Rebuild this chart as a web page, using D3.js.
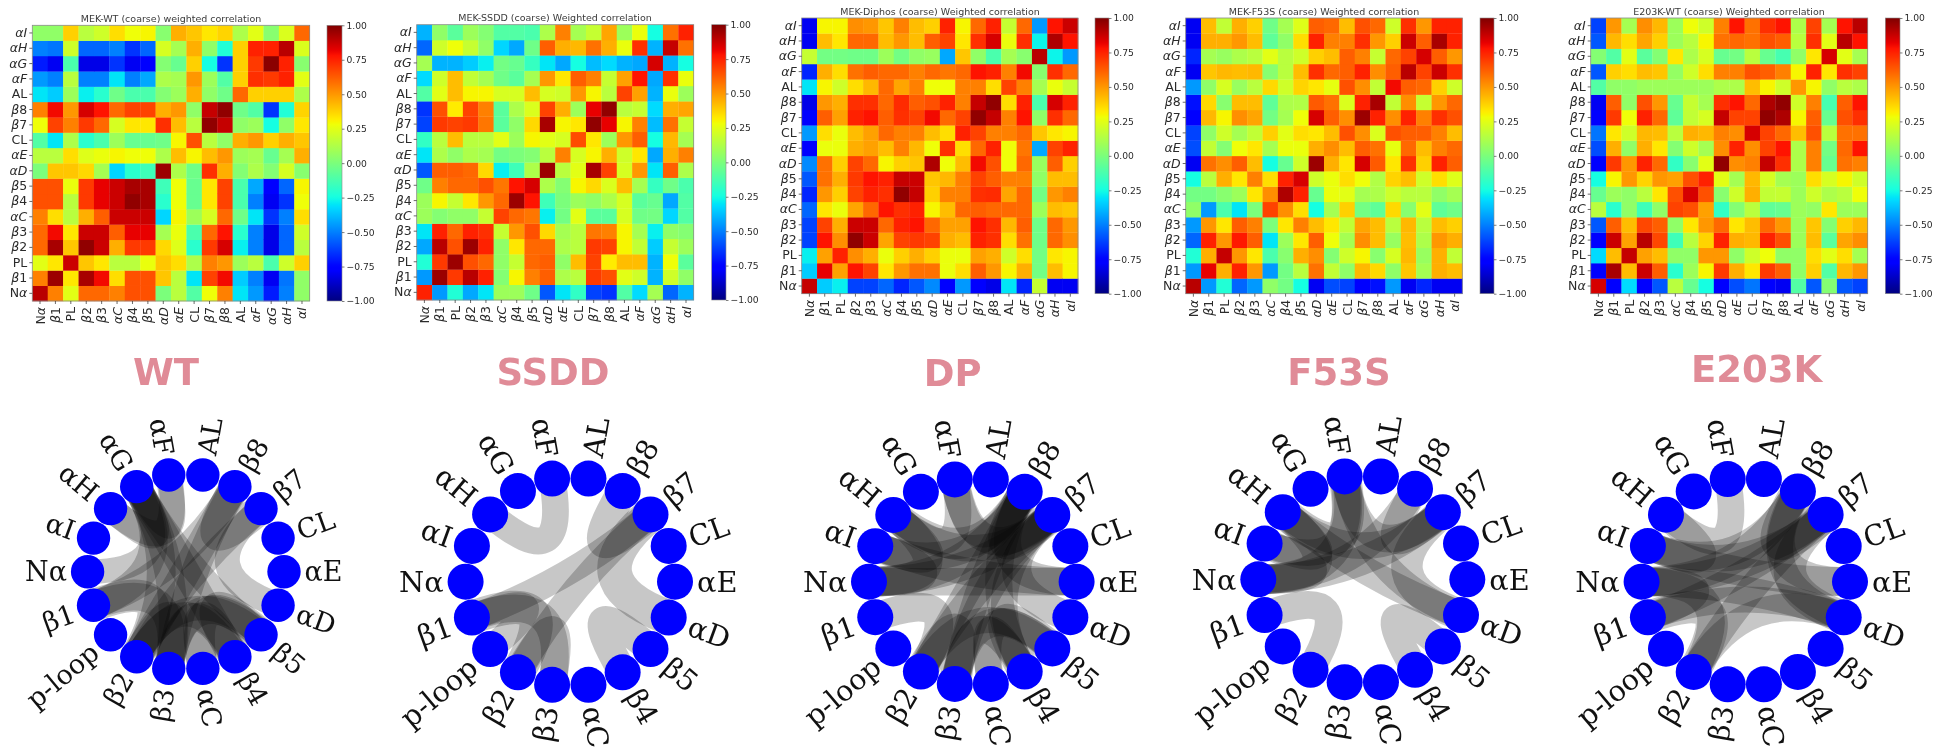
<!DOCTYPE html>
<html><head><meta charset="utf-8">
<script src="https://cdn.jsdelivr.net/npm/d3@7"></script>
<style>
html,body{margin:0;padding:0;background:#fff;overflow:hidden}
svg{display:block;filter:blur(0.45px)}
</style></head><body>
<svg id="chart" width="1950" height="750"></svg>
<script>
// ---------- categories ----------
const heatLabels = ["Nα","β1","PL","β2","β3","αC","β4","β5","αD","αE","CL","β7","β8","AL","αF","αG","αH","αI"];
const netLabels  = ["Nα","β1","p-loop","β2","β3","αC","β4","β5","αD","αE","CL","β7","β8","AL","αF","αG","αH","αI"];
const barTicks = [-1,-0.75,-0.5,-0.25,0,0.25,0.5,0.75,1];
const EDGE_CUTOFF = 0.7;

// ---------- correlation values: lower triangle, row i holds columns 0..i ----------
const corrWT = [
[.9],
[.55,.95],
[.25,.33,.87],
[.6,.93,.4,.97],
[.6,.8,.33,.87,.87],
[.55,.35,.15,.45,.62,.87],
[.65,.65,.15,.7,.82,.87,.97],
[.65,.65,.27,.7,.82,.87,.93,.93],
[0,.4,.4,.36,.1,-.33,-.2,-.15,.95],
[.15,.15,.35,.24,.27,.3,.28,.28,.12,.42],
[-.1,-.3,.12,-.2,-.12,.08,-.05,-.05,-.03,.3,.65],
[.28,.68,.55,.7,.6,.22,.33,.33,.72,.42,.15,.97],
[.55,.8,.5,.85,.78,.6,.68,.68,.45,.5,.05,.88,.97],
[-.3,-.35,.08,-.28,-.2,-.03,-.12,-.12,.02,.08,.45,.05,-.03,.6],
[-.45,-.5,.15,-.5,-.5,-.3,-.5,-.42,.12,.1,.5,.08,-.1,.38,.72],
[-.7,-.8,-.12,-.82,-.82,-.65,-.8,-.75,.02,-.05,.38,-.25,-.65,.38,.7,.98],
[-.5,-.52,.2,-.55,-.55,-.5,-.65,-.55,.22,.1,.45,.05,-.22,.38,.75,.75,.9],
[.05,.05,.38,.15,.2,.35,.28,.3,.03,.45,.4,.33,.37,.12,.25,.03,.23,.6]
];
const corrSSDD = [
[.75],
[-.45,.95],
[-.22,.7,.95],
[-.42,.9,.65,.95],
[-.3,.75,.6,.75,.72],
[.08,.02,.05,.05,.18,.68],
[.08,.3,.18,.33,.5,.6,.95],
[-.03,.55,.6,.6,.65,.57,.78,.85],
[-.58,.62,.62,.6,.36,-.28,-.15,.12,.95],
[-.3,.12,.05,.12,.1,-.02,0,.02,.15,.55],
[-.18,.15,.42,.15,.15,.25,.08,.3,.25,.22,.66],
[-.62,.7,.68,.7,.57,-.08,.05,.36,.93,.3,.33,.97],
[-.65,.65,.32,.68,.55,-.08,.12,.23,.68,.45,.08,.82,.97],
[-.1,.25,.42,.3,.3,.22,.22,.42,.22,.2,.5,.3,.15,.68],
[-.32,.2,.42,.17,.1,-.03,-.08,.1,.5,.33,.62,.55,.18,.48,.78],
[.1,-.4,-.4,-.35,-.28,-.02,-.05,-.17,-.3,-.42,-.25,-.38,-.32,-.4,-.42,.85],
[-.55,.2,.28,.18,.05,-.33,-.42,-.03,.62,.45,.43,.58,.45,.27,.72,-.4,.88],
[-.4,.05,-.08,.08,.02,-.1,-.1,-.12,.12,.55,.1,.18,.47,.08,.27,-.25,.58,.75]
];
const corrDP = [
[.88],
[-.35,.82],
[-.28,.48,.75],
[-.62,.78,.52,.97],
[-.62,.68,.45,.87,.87],
[-.55,.33,.27,.47,.6,.78],
[-.68,.5,.38,.68,.75,.72,.97],
[-.58,.58,.45,.7,.78,.75,.88,.87],
[-.48,.58,.38,.68,.6,.3,.38,.4,.92],
[-.75,.27,.27,.45,.48,.42,.55,.43,.28,.72],
[-.45,.35,.27,.42,.48,.6,.55,.55,.42,.35,.75],
[-.78,.62,.48,.75,.78,.62,.72,.68,.8,.6,.68,.97],
[-.82,.5,.45,.72,.72,.6,.73,.62,.65,.75,.55,.88,.97],
[-.3,.3,.2,.35,.43,.6,.47,.55,.28,.28,.55,.55,.35,.68],
[-.68,.45,.35,.58,.62,.6,.6,.55,.6,.57,.6,.78,.75,.55,.8],
[.18,-.02,-.02,-.03,-.03,.08,-.02,.05,.07,-.42,.4,.05,-.12,.1,.03,.9],
[-.8,.42,.33,.6,.6,.42,.5,.42,.62,.68,.33,.72,.85,.27,.72,-.27,.92],
[-.8,.3,.3,.52,.5,.4,.55,.42,.38,.75,.3,.6,.75,.18,.6,-.45,.78,.87]
];
const corrF53S = [
[.9],
[-.45,.82],
[-.22,.45,.88],
[-.55,.75,.5,.77],
[-.45,.5,.33,.62,.55],
[.05,-.45,-.12,-.3,0,.68],
[-.02,-.02,.03,.08,.33,.52,.92],
[-.25,.15,.45,.33,.55,.35,.75,.85],
[-.8,.58,.52,.62,.42,-.25,-.05,.2,.95],
[-.6,.17,.02,.28,.33,.1,.27,.27,.45,.52],
[-.62,.05,.2,.1,.17,.38,.25,.35,.33,.42,.65],
[-.78,.43,.3,.52,.47,-.02,.1,.28,.85,.62,.52,.95],
[-.72,.36,.03,.42,.42,-.07,.12,.13,.63,.58,.23,.75,.93],
[-.45,.05,.22,.07,.15,.36,.2,.37,.33,.26,.65,.52,.17,.8],
[-.8,.4,.43,.42,.43,.03,.15,.42,.72,.6,.62,.75,.52,.62,.9],
[-.68,.1,.07,.12,.15,.25,.15,.2,.38,.42,.62,.55,.18,.6,.68,.85],
[-.8,.45,.45,.5,.42,-.07,.05,.35,.75,.55,.55,.72,.5,.38,.87,.62,.93],
[-.8,.42,.17,.45,.38,-.03,.1,.24,.62,.6,.42,.65,.6,.2,.72,.5,.75,.75]
];
const corrE203K = [
[.85],
[-.75,.93],
[-.32,.42,.88],
[-.75,.87,.48,.9],
[-.58,.62,.42,.67,.62],
[.15,-.2,.05,-.15,.05,.68],
[-.05,.08,.05,.15,.33,.65,.85],
[-.25,.3,.5,.37,.5,.48,.65,.75],
[-.78,.7,.5,.75,.6,-.18,.03,.25,.97],
[-.6,.45,.05,.45,.33,.02,.2,.1,.52,.75],
[-.52,.33,.2,.43,.42,.15,.45,.43,.55,.52,.85],
[-.78,.7,.28,.75,.6,-.07,.17,.22,.88,.68,.68,.97],
[-.8,.62,.05,.65,.5,-.05,.18,.1,.72,.78,.6,.92,.97],
[-.1,.05,.05,.08,.08,.08,.08,.08,.12,.12,.42,.3,.2,.5],
[-.58,.38,.35,.42,.4,.06,.2,.35,.55,.55,.65,.62,.55,.3,.75],
[.02,-.1,.25,-.08,.02,.33,.12,.22,-.05,-.02,.15,-.05,-.13,.05,.33,.85],
[-.58,.43,.35,.47,.38,.08,.15,.3,.58,.6,.58,.65,.62,.15,.72,.25,.9],
[-.62,.5,.1,.52,.43,.08,.28,.2,.55,.78,.58,.72,.78,.12,.68,.1,.78,.9]
];
// pairs above the cut-off that the reference network does not draw
const absentF53S = [["Nα","αD"]];

// ---------- panel text and layout ----------
const panels = [
 {name:"WT",   title:"MEK-WT (coarse) weighted correlation",   corr:corrWT, absent:[],
  hm:[32.3,309.7,25.3,301], bar:[327,342],   tx:171,  net:[185.8,571.7,98.2,16.7], head:[166,385]},
 {name:"SSDD", title:"MEK-SSDD (coarse) Weighted correlation", corr:corrSSDD, absent:[],
  hm:[416.7,693.7,24.7,300], bar:[711.7,726], tx:555,  net:[570.3,581.7,104.7,18], head:[553,385]},
 {name:"DP",   title:"MEK-Diphos (coarse) Weighted correlation", corr:corrDP, absent:[],
  hm:[801.7,1078,18,293.7], bar:[1095,1109], tx:940,  net:[972.8,581.7,103.8,18], head:[952.7,385.5]},
 {name:"F53S", title:"MEK-F53S (coarse) Weighted correlation", corr:corrF53S, absent:absentF53S,
  hm:[1185.7,1462.3,18,293.7], bar:[1480,1494], tx:1324, net:[1362.8,579.3,104.5,18], head:[1339,385]},
 {name:"E203K",title:"E203K-WT (coarse) Weighted correlation", corr:corrE203K, absent:[],
  hm:[1590.7,1867.7,18,293.7], bar:[1885.3,1900], tx:1729, net:[1745.8,581.7,104.2,18], head:[1756.7,381.5]}
];

// ---------- jet colour map ----------
const chan = (d,r)=>d3.scaleLinear().domain(d).range(r).clamp(true);
const jr = chan([0,.35,.66,.89,1],[0,0,1,1,.5]);
const jg = chan([0,.125,.375,.64,.91,1],[0,0,1,1,0,0]);
const jb = chan([0,.11,.34,.65,1],[.5,1,1,0,0]);
const toUnit = d3.scaleLinear().domain([-1,1]).range([0,1]);
const jet = v=>{const t=toUnit(v);return d3.rgb(jr(t)*255,jg(t)*255,jb(t)*255).formatRgb();};

const svg = d3.select("#chart");
const defs = svg.append("defs");
const SANS = "'DejaVu Sans',sans-serif", SERIF = "'DejaVu Serif',serif";
const tickInk = "#2b2b2b";

defs.append("linearGradient").attr("id","jetbar").attr("x1",0).attr("x2",0).attr("y1",1).attr("y2",0)
  .selectAll("stop").data(d3.range(0,1.0001,0.01)).join("stop")
  .attr("offset",d=>d).attr("stop-color",d=>jet(d*2-1));

// mathtext style: Greek letters and the capital following alpha are italic
function styleMath(sel){
  sel.each(function(){
    const s=d3.select(this), t=s.text(); s.text(null);
    [...t].forEach((c,i)=>{
      const it = c==="α"||c==="β"||(i>0&&t[i-1]==="α");
      s.append("tspan").attr("font-style",it?"italic":"normal").text(c);
    });
  });
}

panels.forEach(p=>{
  const [x0,x1,y0,y1]=p.hm;
  const g=svg.append("g");
  const x=d3.scaleBand().domain(heatLabels).range([x0,x1]);
  const y=d3.scaleBand().domain(heatLabels).range([y1,y0]);
  const cells=[];
  p.corr.forEach((row,i)=>row.forEach((v,j)=>{
    cells.push({r:heatLabels[i],c:heatLabels[j],v});
    if(i!==j) cells.push({r:heatLabels[j],c:heatLabels[i],v});
  }));
  g.selectAll("rect.cell").data(cells).join("rect").attr("class","cell")
    .attr("x",d=>x(d.c)).attr("y",d=>y(d.r))
    .attr("width",x.bandwidth()+.3).attr("height",y.bandwidth()+.3)
    .attr("fill",d=>jet(d.v));
  g.append("rect").attr("x",x0).attr("y",y0).attr("width",x1-x0).attr("height",y1-y0)
    .attr("fill","none").attr("stroke","#8a8a8a").attr("stroke-width",.8);

  const ax=g.append("g").attr("transform",`translate(0,${y1})`).call(d3.axisBottom(x).tickSize(3).tickPadding(2));
  ax.select(".domain").remove();
  ax.selectAll("line").attr("stroke",tickInk).attr("stroke-width",.7);
  ax.selectAll("text").attr("transform","rotate(-90)").attr("text-anchor","end")
    .attr("x",-6).attr("y",0).attr("dy","0.36em")
    .attr("font-family",SANS).attr("font-size",12.5).attr("fill",tickInk).call(styleMath);
  const ay=g.append("g").attr("transform",`translate(${x0},0)`).call(d3.axisLeft(y).tickSize(3).tickPadding(2));
  ay.select(".domain").remove();
  ay.selectAll("line").attr("stroke",tickInk).attr("stroke-width",.7);
  ay.selectAll("text").attr("font-family",SANS).attr("font-size",12.5).attr("fill",tickInk).call(styleMath);

  g.append("text").attr("x",p.tx).attr("y",y0-3.5).attr("text-anchor","middle")
    .attr("font-family",SANS).attr("font-size",9.5).attr("fill","#3a3a3a").text(p.title);

  // colour bar
  const [bx0,bx1]=p.bar;
  g.append("rect").attr("x",bx0).attr("y",y0).attr("width",bx1-bx0).attr("height",y1-y0)
    .attr("fill","url(#jetbar)").attr("stroke","#8a8a8a").attr("stroke-width",.6);
  const bs=d3.scaleLinear().domain([-1,1]).range([y1,y0]);
  const ab=g.append("g").attr("transform",`translate(${bx1},0)`)
    .call(d3.axisRight(bs).tickValues(barTicks).tickSize(2.5).tickPadding(2).tickFormat(v=>d3.format(".2f")(v).replace("-","−")));
  ab.select(".domain").remove();
  ab.selectAll("line").attr("stroke",tickInk).attr("stroke-width",.6);
  ab.selectAll("text").attr("font-family",SANS).attr("font-size",9.2).attr("fill",tickInk);

  // network: edge width follows the size of the correlation
  const [cx,cy,R,nr]=p.net;
  const ang=d3.scaleLinear().domain([0,netLabels.length]).range([Math.PI,3*Math.PI]);
  const px=d3.scaleLinear().domain([-1,1]).range([cx-R,cx+R]);
  const py=d3.scaleLinear().domain([-1,1]).range([cy+R,cy-R]);
  const nodes=netLabels.map((n,i)=>({n,i,a:ang(i),x:px(Math.cos(ang(i))),y:py(Math.sin(ang(i)))}));
  const absent=new Set(p.absent.map(([a,b])=>heatLabels.indexOf(a)+"-"+heatLabels.indexOf(b)));
  const edges=[];
  p.corr.forEach((row,i)=>row.forEach((v,j)=>{
    if(i!==j&&Math.abs(v)>=EDGE_CUTOFF&&!absent.has(j+"-"+i)&&!absent.has(i+"-"+j))
      edges.push({a:nodes[i],b:nodes[j],w:Math.abs(v)});
  }));
  const n=svg.append("g");
  n.selectAll("path").data(edges).join("path")
    .attr("d",d=>{const q=d3.path();q.moveTo(d.a.x,d.a.y);q.quadraticCurveTo(cx,cy,d.b.x,d.b.y);return q.toString();})
    .attr("fill","none").attr("stroke","#000").attr("stroke-opacity",.22).attr("stroke-width",d=>d.w*R*.355);
  n.selectAll("circle").data(nodes).join("circle")
    .attr("cx",d=>d.x).attr("cy",d=>d.y).attr("r",nr).attr("fill","#0000ff");
  const LR=R*1.21;
  n.selectAll("text").data(nodes).join("text")
    .attr("transform",d=>{
      const deg=d.a*180/Math.PI, c=Math.cos(d.a);
      const rot=c>=0?deg:deg-180;
      return `translate(${cx+LR*c},${cy-LR*Math.sin(d.a)}) rotate(${-rot})`;})
    .attr("text-anchor",d=>Math.cos(d.a)>=0?"start":"end")
    .attr("dy","0.36em").attr("font-family",SERIF).attr("font-size",R*.275).attr("fill","#111").text(d=>d.n);

  svg.append("text").attr("x",p.head[0]).attr("y",p.head[1]).attr("text-anchor","middle")
    .attr("font-family",SANS).attr("font-weight","bold").attr("font-size",37).attr("fill","#e08b97").text(p.name);
});
</script></body></html>
